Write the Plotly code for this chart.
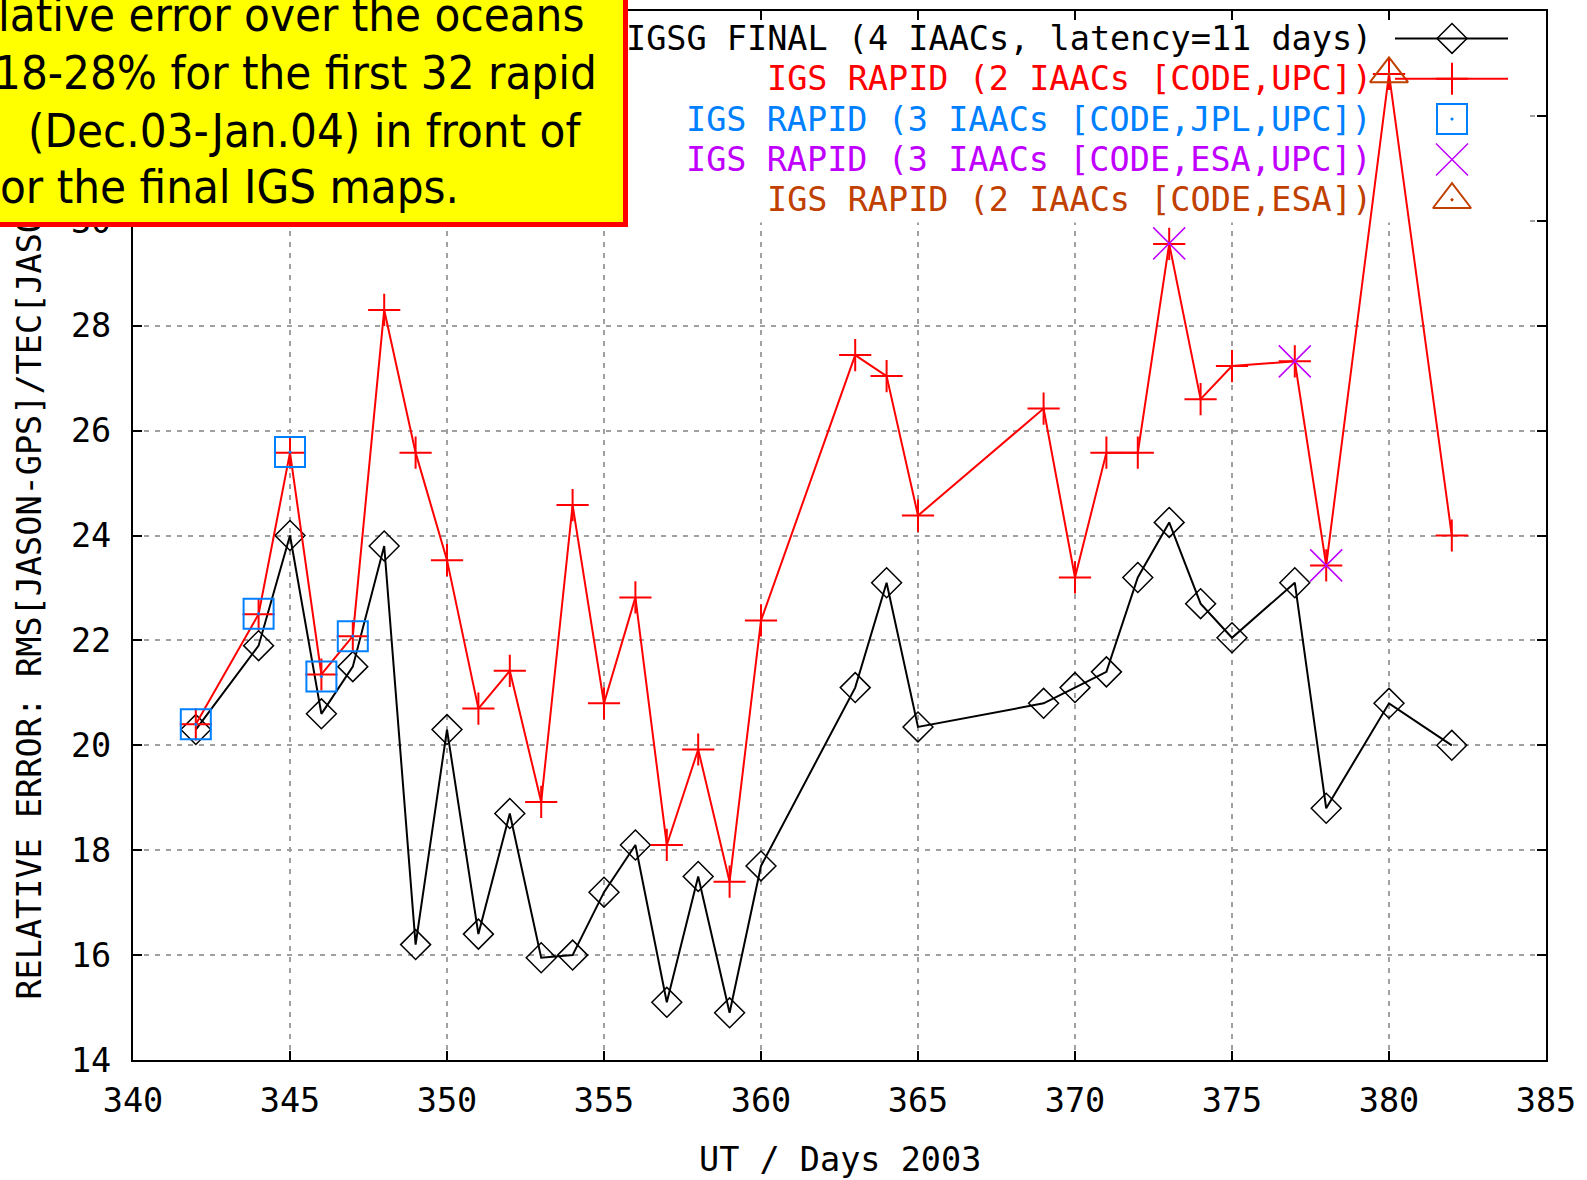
import plotly.graph_objects as go

# ---------------- data ----------------
days = [342, 344, 345, 346, 347, 348, 349, 350, 351, 352, 353, 354, 355, 356, 357, 358,
        359, 360, 363, 364, 365, 369, 370, 371, 372, 373, 374, 375, 377, 378, 380, 382]
igsg_final = [20.3, 21.9, 24.0, 20.6, 21.5, 23.8, 16.2, 20.3, 16.4, 18.7, 15.95, 16.0,
              17.2, 18.1, 15.1, 17.5, 14.9, 17.7, 21.1, 23.1, 20.35, 20.8, 21.1, 21.4,
              23.2, 24.25, 22.7, 22.05, 23.1, 18.8, 20.8, 20.0]
igs_rapid_code_upc = [20.4, 22.5, 25.58, 21.35, 22.08, 28.3, 25.58, 23.53, 20.7, 21.42,
                      18.92, 24.58, 20.8, 22.82, 18.1, 19.92, 17.4, 22.38, 27.44, 27.04,
                      24.38, 26.42, 23.2, 25.58, 25.58, 29.56, 26.6, 27.23, 27.32, 23.43,
                      32.8, 24.0]
jpl_days = [342, 344, 345, 346, 347]
igs_rapid_code_jpl_upc = [20.4, 22.51, 25.59, 21.31, 22.08]
esa_upc_days = [373, 377, 378]
igs_rapid_code_esa_upc = [29.57, 27.32, 23.43]
esa_days = [380]
igs_rapid_code_esa = [32.8]

x_ticks = list(range(340, 386, 5))
y_ticks = list(range(14, 35, 2))
y_tick_text = [str(v) if v <= 30 else "" for v in y_ticks]  # 32/34 sit under the note box

series_names = [
    "IGSG FINAL (4 IAACs, latency=11 days)",
    "IGS RAPID (2 IAACs [CODE,UPC])",
    "IGS RAPID (3 IAACs [CODE,JPL,UPC])",
    "IGS RAPID (3 IAACs [CODE,ESA,UPC])",
    "IGS RAPID (2 IAACs [CODE,ESA])",
]
note_lines = [
    "lative error over the oceans",
    "18-28% for the first 32 rapid",
    "(Dec.03-Jan.04) in front of",
    "or the final IGS maps.",
]
x_title = "UT / Days 2003"
y_title = "RELATIVE ERROR: RMS[JASON-GPS]/TEC[JASON]"

# ---------------- layout geometry ----------------
W, H = 1587, 1180
ML, MR, MT, MB = 133, 41, 9, 120
PW = W - ML - MR
PH = H - MT - MB
XR = [340, 385]
YR = [14, 34]


def px_x(px):
    return (px - ML) / PW


def px_y(py):
    return (H - MB - py) / PH


def dx(px):
    return XR[0] + px_x(px) * (XR[1] - XR[0])


def dy(py):
    return YR[0] + px_y(py) * (YR[1] - YR[0])


BLACK = "#000000"
RED = "#ff0000"
BLUE = "#0080ff"
MAGENTA = "#c000ff"
BROWN = "#c04000"
MONO = "DejaVu Sans Mono, Liberation Mono, monospace"
NOTE_FONT = "DejaVu Sans Condensed, DejaVu Sans, sans-serif"
MONO_SIZE = 33.5

styles = [
    dict(color=BLACK, line=True, symbol="diamond-open", size=23, mlw=1.5),
    dict(color=RED, line=True, symbol="cross-thin-open", size=23, mlw=2),
    dict(color=BLUE, line=False, symbol="square-open-dot", size=30, mlw=2),
    dict(color=MAGENTA, line=False, symbol="x-thin-open", size=32, mlw=1.5),
    dict(color=BROWN, line=False, symbol="triangle-up-open-dot", size=33, mlw=2),
]

fig = go.Figure()


def add_series(xs, ys, st, mode):
    fig.add_trace(go.Scatter(
        x=xs, y=ys, mode=mode, showlegend=False, hoverinfo="skip",
        line=dict(color=st["color"], width=2),
        marker=dict(symbol=st["symbol"], size=st["size"], color=st["color"],
                    line=dict(color=st["color"], width=st["mlw"])),
        cliponaxis=False,
    ))


add_series(days, igsg_final, styles[0], "lines+markers")
add_series(days, igs_rapid_code_upc, styles[1], "lines+markers")
add_series(jpl_days, igs_rapid_code_jpl_upc, styles[2], "markers")
add_series(esa_upc_days, igs_rapid_code_esa_upc, styles[3], "markers")
add_series(esa_days, igs_rapid_code_esa, styles[4], "markers")

# ---------------- gnuplot-style key (text right, sample right) ----------------
KEY_TEXT_RIGHT = 1374
KEY_LINE = [1395, 1508]
KEY_MARK = 1452
KEY_ROW0 = 36.5
KEY_STEP = 40.4

annotations = []
for i, (name, st) in enumerate(zip(series_names, styles)):
    ry = KEY_ROW0 + i * KEY_STEP
    if st["line"]:
        fig.add_trace(go.Scatter(
            x=KEY_LINE, y=[ry, ry], mode="lines", xaxis="x2", yaxis="y2",
            showlegend=False, hoverinfo="skip",
            line=dict(color=st["color"], width=2)))
    fig.add_trace(go.Scatter(
        x=[KEY_MARK], y=[ry], mode="markers", xaxis="x2", yaxis="y2",
        showlegend=False, hoverinfo="skip", cliponaxis=False,
        marker=dict(symbol=st["symbol"], size=st["size"], color=st["color"],
                    line=dict(color=st["color"], width=st["mlw"]))))
    annotations.append(dict(
        text=name, xref="paper", yref="paper", x=px_x(KEY_TEXT_RIGHT), y=px_y(ry),
        xanchor="right", yanchor="middle", showarrow=False,
        font=dict(family=MONO, size=MONO_SIZE, color=st["color"])))

# axis titles
annotations.append(dict(
    text=x_title, xref="paper", yref="paper", x=0.5, y=px_y(1160),
    xanchor="center", yanchor="middle", showarrow=False,
    font=dict(family=MONO, size=MONO_SIZE, color=BLACK)))
annotations.append(dict(
    text=y_title, xref="paper", yref="paper", x=px_x(30), y=px_y(1002),
    xanchor="center", yanchor="bottom", showarrow=False, textangle=-90,
    font=dict(family=MONO, size=MONO_SIZE, color=BLACK)))

# yellow note box (drawn after y title so it covers it)
BOX_RIGHT, BOX_BOTTOM = 628, 225
annotations.append(dict(
    text=" ", xref="paper", yref="paper", x=px_x(BOX_RIGHT), y=px_y(BOX_BOTTOM),
    xanchor="right", yanchor="bottom", showarrow=False,
    width=900, height=500, bgcolor="#ffff00", bordercolor="#ff0000",
    borderwidth=5, borderpad=0))
note_right = [586, 599, 583, 461]
note_center = [13, 70.5, 128.5, 184.5]
for txt, rx, cy in zip(note_lines, note_right, note_center):
    annotations.append(dict(
        text=txt, xref="paper", yref="paper", x=px_x(rx), y=px_y(cy),
        xanchor="right", yanchor="middle", showarrow=False,
        font=dict(family=NOTE_FONT, size=47, color=BLACK)))

# opaque key background (above grid, below traces)
shapes = [dict(type="rect", xref="x", yref="y", layer="between",
               x0=dx(628), x1=dx(1527), y0=dy(221), y1=dy(MT),
               fillcolor="#ffffff", line=dict(width=0))]

axis_common = dict(
    showline=True, linecolor=BLACK, linewidth=2, mirror="ticks",
    ticks="inside", ticklen=9, tickwidth=1.5, tickcolor=BLACK,
    showgrid=True, gridcolor="#a0a0a0", gridwidth=1.5, griddash="5px,6px",
    zeroline=False, tickfont=dict(family=MONO, size=MONO_SIZE, color=BLACK),
    fixedrange=True,
)

fig.update_layout(
    width=W, height=H, autosize=False,
    margin=dict(l=ML, r=MR, t=MT, b=MB, pad=0),
    paper_bgcolor="#ffffff", plot_bgcolor="#ffffff",
    showlegend=False,
    xaxis=dict(range=XR, tickmode="array", tickvals=x_ticks, ticklabelstandoff=10,
               **axis_common),
    yaxis=dict(range=YR, tickmode="array", tickvals=y_ticks, ticktext=y_tick_text,
               ticklabelstandoff=13, **axis_common),
    xaxis2=dict(overlaying="x", anchor="y2", range=[ML, W - MR], visible=False,
                fixedrange=True),
    yaxis2=dict(overlaying="y", anchor="x2", range=[H - MB, MT], visible=False,
                fixedrange=True),
    annotations=annotations,
    shapes=shapes,
)

fig.write_html("out.html")
